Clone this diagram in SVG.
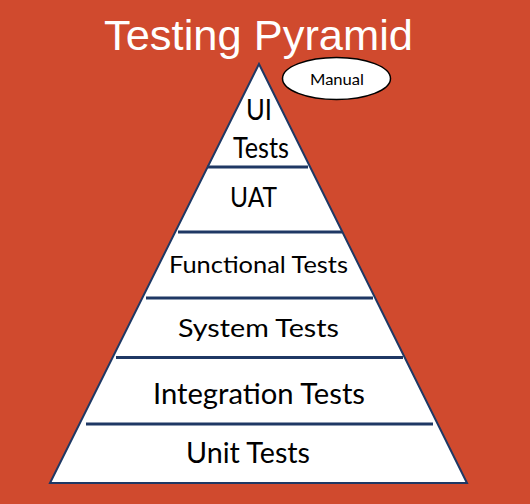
<svg xmlns="http://www.w3.org/2000/svg" width="530" height="504" viewBox="0 0 530 504">
  <style>
    .lbl { font-family: Lato, "Open Sans", sans-serif; fill: #000; text-anchor: middle; }
    .div { stroke: #1F3864; stroke-width: 3; fill: none; }
  </style>
  <rect x="0" y="0" width="530" height="504" fill="#D04A2E"/>
  <text x="258.5" y="50" font-family="'Liberation Sans', Arial, sans-serif" font-size="43" fill="#FFFFFF" text-anchor="middle" textLength="309" lengthAdjust="spacingAndGlyphs">Testing Pyramid</text>

  <g id="pyramid">
    <polygon points="259,64 50,483 467,483" fill="#FFFFFF" stroke="#1F3864" stroke-width="2" stroke-linejoin="miter"/>
  </g>

  <g id="connectors">
    <line class="div" x1="207" y1="167" x2="308" y2="167"/>
    <line class="div" x1="178" y1="232" x2="342" y2="232"/>
    <line class="div" x1="146" y1="298" x2="373" y2="298"/>
    <line class="div" x1="116" y1="357.5" x2="403" y2="357.5"/>
    <line class="div" x1="86" y1="424" x2="433" y2="424"/>
  </g>

  <g id="ui-tests">
    <text class="lbl" x="259" y="120" font-size="28" textLength="26" lengthAdjust="spacingAndGlyphs">UI</text>
    <text class="lbl" x="261" y="158" font-size="28" textLength="56" lengthAdjust="spacingAndGlyphs">Tests</text>
  </g>
  <g id="uat">
    <text class="lbl" x="253.5" y="207" font-size="27" textLength="47" lengthAdjust="spacingAndGlyphs">UAT</text>
  </g>
  <g id="functional-tests">
    <text class="lbl" x="258.5" y="273" font-size="23.5" textLength="179" lengthAdjust="spacingAndGlyphs">Functional Tests</text>
  </g>
  <g id="system-tests">
    <text class="lbl" x="258.5" y="337" font-size="25.5" textLength="161" lengthAdjust="spacingAndGlyphs">System Tests</text>
  </g>
  <g id="integration-tests">
    <text class="lbl" x="259" y="403.5" font-size="28" textLength="212" lengthAdjust="spacingAndGlyphs">Integration Tests</text>
  </g>
  <g id="unit-tests">
    <text class="lbl" x="248" y="463" font-size="28" textLength="124" lengthAdjust="spacingAndGlyphs">Unit Tests</text>
  </g>

  <g id="manual">
    <ellipse cx="336.5" cy="78.5" rx="54" ry="21" fill="#FFFFFF" stroke="#000000" stroke-width="1.5"/>
    <text class="lbl" x="337" y="85" font-size="15" textLength="54" lengthAdjust="spacingAndGlyphs">Manual</text>
  </g>
</svg>
